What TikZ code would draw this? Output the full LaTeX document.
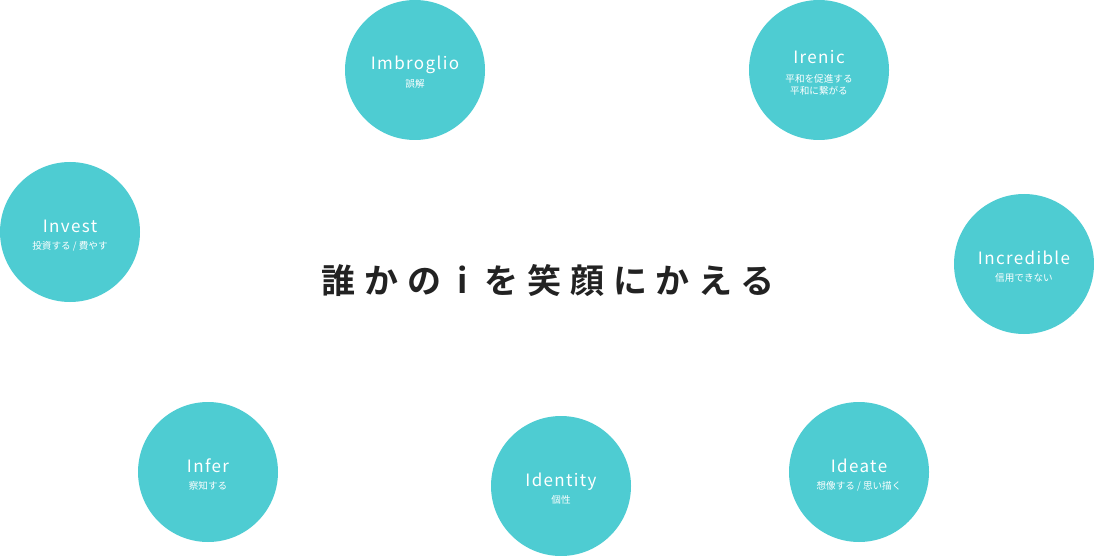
\documentclass[tikz,border=0pt]{standalone}
\usepackage{fontspec}
\newfontfamily\cjk{Noto Sans CJK JP}
\newfontfamily\cjkbold{Noto Sans CJK JP Bold}
\definecolor{teal}{HTML}{4ECCD2}
\definecolor{ink}{HTML}{222222}
\tikzset{
  bubble/.style={circle,fill=teal,minimum size=140pt,inner sep=0pt},
  ttl/.style={text=white,anchor=base,inner sep=0pt,font=\cjk\fontsize{17}{20}\selectfont\addfontfeature{LetterSpace=8}},
  sub/.style={text=white,inner sep=0pt,font=\cjk\fontsize{9.6}{12}\selectfont,align=center},
}
\begin{document}
\begin{tikzpicture}[x=1pt,y=-1pt]
\useasboundingbox (0,0) rectangle (1094,556);
% circles
\node[bubble] (imb) at (415,70) {};
\node[bubble] (ire) at (819,70) {};
\node[bubble] (inv) at (70,232) {};
\node[bubble] (inc) at (1024,264) {};
\node[bubble] (inf) at (208,472) {};
\node[bubble] (ide) at (561,486) {};
\node[bubble] (ida) at (859,472) {};
% titles
\node[ttl] (imbt) at (415,70) {Imbroglio};
\node[sub] (imbs) at (415,84) {誤解};
\node[ttl] (iret) at (819,64) {Irenic};
\node[sub] (ires) at (819,85) {平和を促進する\\平和に繋がる};
\node[ttl] (invt) at (70,232) {Invest};
\node[sub] (invs) at (70,246) {投資する / 費やす};
\node[ttl] (inct) at (1024,264) {Incredible};
\node[sub] (incs) at (1024,278) {信用できない};
\node[ttl] (inft) at (208,472) {Infer};
\node[sub] (infs) at (208,486) {察知する};
\node[ttl] (idet) at (561,486) {Identity};
\node[sub] (ides) at (561,500) {個性};
\node[ttl] (idat) at (859,472) {Ideate};
\node[sub] (idas) at (859,486) {想像する / 思い描く};
% center
\node[text=ink,font=\cjkbold\fontsize{34}{40}\selectfont\addfontfeature{LetterSpace=26}] (main) at (548,281) {誰かの i を笑顔にかえる};
\end{tikzpicture}
\end{document}
